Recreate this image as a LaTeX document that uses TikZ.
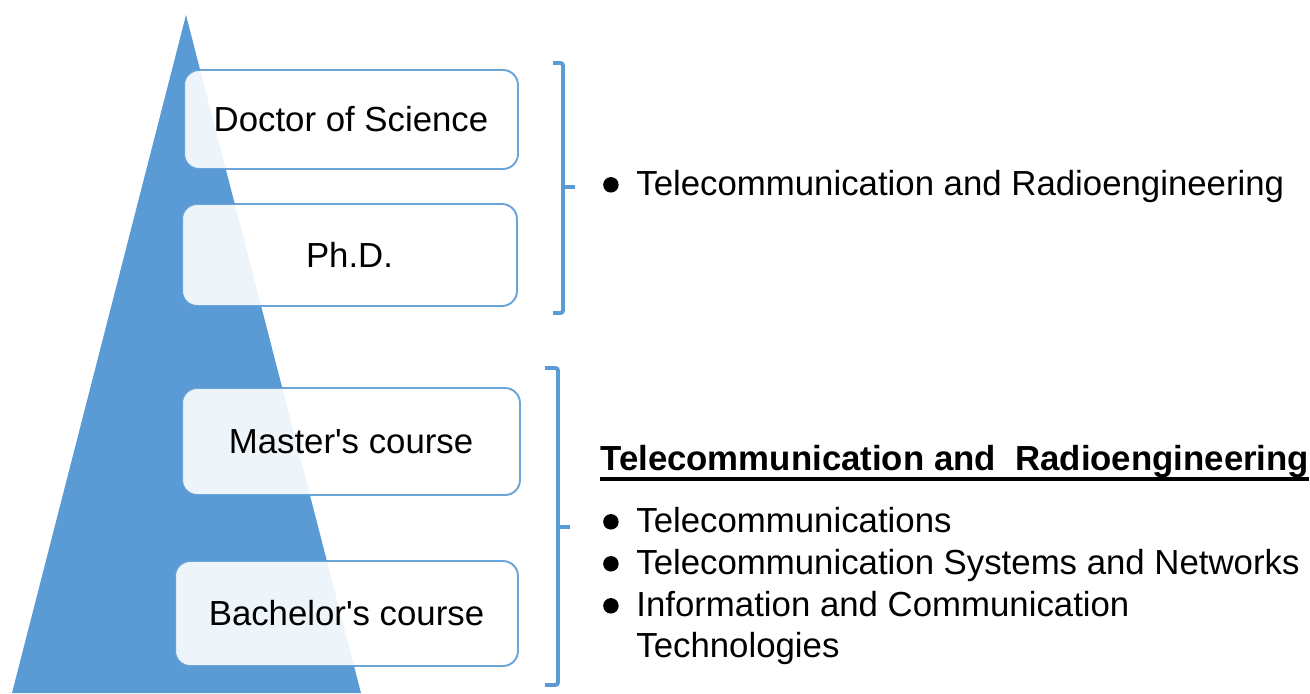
\documentclass[tikz,border=0pt]{standalone}
\usepackage{fontspec}
\setmainfont{Liberation Sans}
\usepackage{tikz}
\usetikzlibrary{positioning}

\definecolor{pyramid}{HTML}{5B9BD5}

\begin{document}
\begin{tikzpicture}[
  x=0.02cm, y=-0.02cm,
  font=\fontsize{19.8}{23.5}\selectfont,
  label distance=0.34cm,
  level/.style={rectangle, rounded corners=0.3cm, draw=pyramid, line width=1.1pt,
    fill=white, opacity=0.9, text opacity=1, minimum width=6.7cm, minimum height=2.05cm},
  brace/.style={draw=pyramid, line width=2.2pt, rounded corners=1.5pt},
  entry/.style={anchor=base west, inner sep=0pt, text height=15.8pt, text depth=4.2pt},
  dot/.style={circle, fill=black, inner sep=0pt, minimum size=0.31cm},
  item/.style={entry, label={[dot]left:}}
]
  \useasboundingbox (0,0) rectangle (1310,693);
  \fill[pyramid] (186,15) -- (361,693) -- (12,693) -- cycle;

  \node[level, minimum width=6.68cm, minimum height=1.98cm] (doc) at (351,119.5) {Doctor of Science};
  \node[level, minimum height=2.04cm] (phd) at (349.5,255) {Ph.D.};
  \node[level, minimum width=6.76cm, minimum height=2.14cm] (master) at (351,441.5) {Master\textquotesingle s course};
  \node[level, minimum width=6.86cm, minimum height=2.1cm] (bachelor) at (346.5,613.5) {Bachelor\textquotesingle s course};

  \draw[brace] (553,63) -- (563,63) -- (563,313) -- (553,313);
  \draw[brace] (563,187) -- (575,187);
  \draw[brace] (545,368) -- (558,368) -- (558,685) -- (545,685);
  \draw[brace] (558,527) -- (570,527);

  \node[item] (phdspec) at (636,195) {Telecommunication and Radioengineering};

  \node[entry, font=\fontsize{19.8}{23.5}\selectfont\bfseries] (head) at (600,470)
    {Telecommunication and \ Radioengineering};
  \draw[line width=2.3pt] ([yshift=-5.1pt]head.base west) -- ([yshift=-5.1pt]head.base east);

  \node[item] (spec1) at (636,532) {Telecommunications};
  \node[item] (spec2) at (636,574) {Telecommunication Systems and Networks};
  \node[item] (spec3) at (636,616) {Information and Communication};
  \node[entry] (spec3b) at (636,657) {Technologies};
\end{tikzpicture}
\end{document}
